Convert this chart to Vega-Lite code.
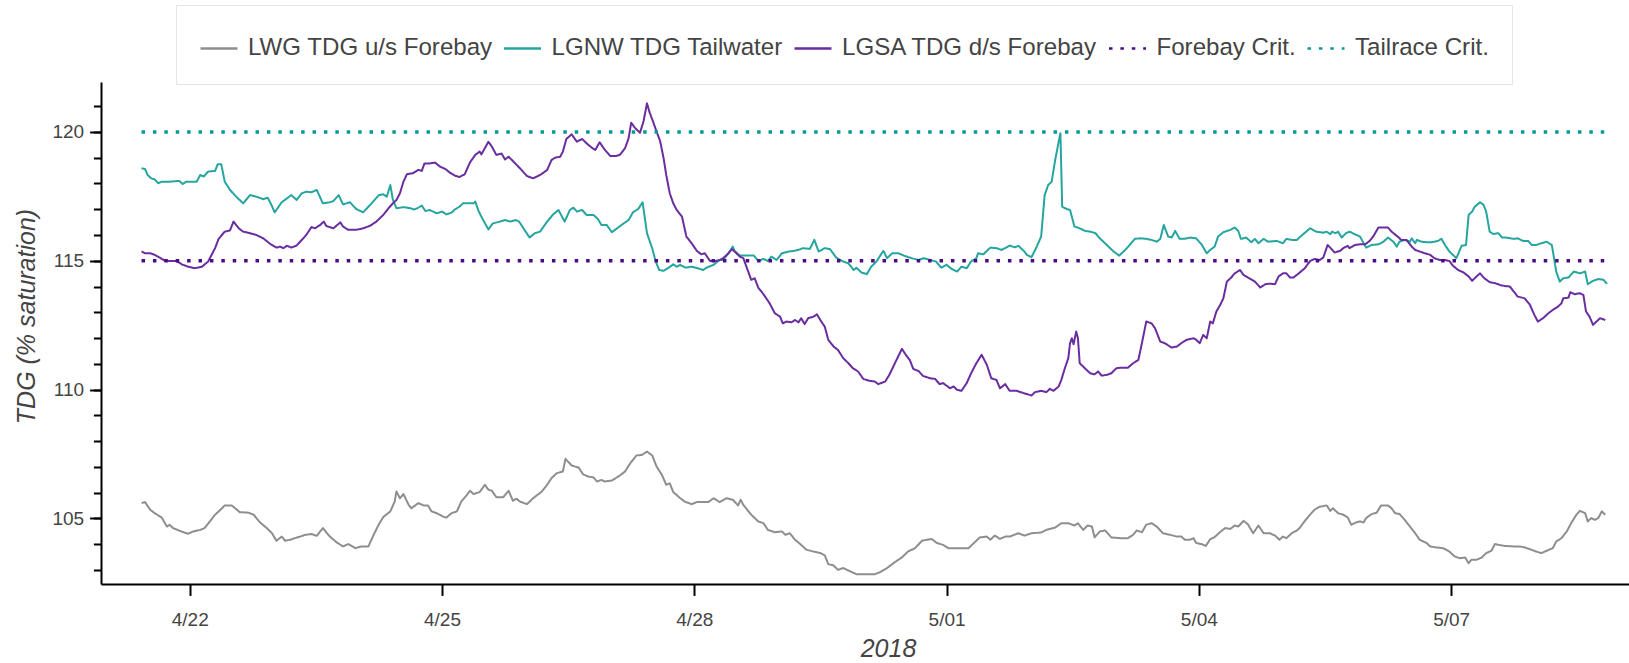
{
"$schema":"https://vega.github.io/schema/vega-lite/v6.json",
"width":1528,"height":502,
"autosize":"none",
"padding":{"left":101,"top":82,"right":0,"bottom":79},
"background":"white",
"config":{"view":{"stroke":null},"axis":{"labelFont":"Liberation Sans","titleFont":"Liberation Sans"},"legend":{"labelFont":"Liberation Sans"}},
"datasets":{
"ts":[
{"t":"2018-04-21T10:15","s":"LWG TDG u/s Forebay","v":105.59},{"t":"2018-04-21T11:15","s":"LWG TDG u/s Forebay","v":105.63},{"t":"2018-04-21T12:45","s":"LWG TDG u/s Forebay","v":105.33},{"t":"2018-04-21T14:00","s":"LWG TDG u/s Forebay","v":105.20},{"t":"2018-04-21T16:00","s":"LWG TDG u/s Forebay","v":105.03},{"t":"2018-04-21T17:30","s":"LWG TDG u/s Forebay","v":104.68},{"t":"2018-04-21T18:15","s":"LWG TDG u/s Forebay","v":104.75},{"t":"2018-04-21T19:15","s":"LWG TDG u/s Forebay","v":104.62},{"t":"2018-04-21T21:15","s":"LWG TDG u/s Forebay","v":104.51},{"t":"2018-04-21T23:30","s":"LWG TDG u/s Forebay","v":104.40},
{"t":"2018-04-22T01:00","s":"LWG TDG u/s Forebay","v":104.49},{"t":"2018-04-22T03:00","s":"LWG TDG u/s Forebay","v":104.55},{"t":"2018-04-22T04:15","s":"LWG TDG u/s Forebay","v":104.62},{"t":"2018-04-22T05:45","s":"LWG TDG u/s Forebay","v":104.88},{"t":"2018-04-22T07:15","s":"LWG TDG u/s Forebay","v":105.14},{"t":"2018-04-22T08:45","s":"LWG TDG u/s Forebay","v":105.33},{"t":"2018-04-22T10:00","s":"LWG TDG u/s Forebay","v":105.50},{"t":"2018-04-22T12:00","s":"LWG TDG u/s Forebay","v":105.50},{"t":"2018-04-22T13:30","s":"LWG TDG u/s Forebay","v":105.33},{"t":"2018-04-22T14:15","s":"LWG TDG u/s Forebay","v":105.24},{"t":"2018-04-22T16:45","s":"LWG TDG u/s Forebay","v":105.22},{"t":"2018-04-22T18:15","s":"LWG TDG u/s Forebay","v":105.14},{"t":"2018-04-22T20:00","s":"LWG TDG u/s Forebay","v":104.85},{"t":"2018-04-22T22:00","s":"LWG TDG u/s Forebay","v":104.62},{"t":"2018-04-22T23:30","s":"LWG TDG u/s Forebay","v":104.42},
{"t":"2018-04-23T00:45","s":"LWG TDG u/s Forebay","v":104.13},{"t":"2018-04-23T02:15","s":"LWG TDG u/s Forebay","v":104.29},{"t":"2018-04-23T03:15","s":"LWG TDG u/s Forebay","v":104.13},{"t":"2018-04-23T04:45","s":"LWG TDG u/s Forebay","v":104.17},{"t":"2018-04-23T06:00","s":"LWG TDG u/s Forebay","v":104.23},{"t":"2018-04-23T07:30","s":"LWG TDG u/s Forebay","v":104.29},{"t":"2018-04-23T09:00","s":"LWG TDG u/s Forebay","v":104.36},{"t":"2018-04-23T10:45","s":"LWG TDG u/s Forebay","v":104.39},{"t":"2018-04-23T12:15","s":"LWG TDG u/s Forebay","v":104.32},{"t":"2018-04-23T14:00","s":"LWG TDG u/s Forebay","v":104.62},{"t":"2018-04-23T16:00","s":"LWG TDG u/s Forebay","v":104.29},{"t":"2018-04-23T18:00","s":"LWG TDG u/s Forebay","v":104.06},{"t":"2018-04-23T19:45","s":"LWG TDG u/s Forebay","v":103.91},{"t":"2018-04-23T21:15","s":"LWG TDG u/s Forebay","v":104.00},{"t":"2018-04-23T23:15","s":"LWG TDG u/s Forebay","v":103.84},
{"t":"2018-04-24T01:00","s":"LWG TDG u/s Forebay","v":103.91},{"t":"2018-04-24T03:00","s":"LWG TDG u/s Forebay","v":103.91},{"t":"2018-04-24T04:30","s":"LWG TDG u/s Forebay","v":104.36},{"t":"2018-04-24T06:00","s":"LWG TDG u/s Forebay","v":104.77},{"t":"2018-04-24T07:15","s":"LWG TDG u/s Forebay","v":105.05},{"t":"2018-04-24T09:15","s":"LWG TDG u/s Forebay","v":105.27},{"t":"2018-04-24T10:30","s":"LWG TDG u/s Forebay","v":105.65},{"t":"2018-04-24T11:00","s":"LWG TDG u/s Forebay","v":106.04},{"t":"2018-04-24T12:00","s":"LWG TDG u/s Forebay","v":105.78},{"t":"2018-04-24T13:00","s":"LWG TDG u/s Forebay","v":105.94},{"t":"2018-04-24T14:30","s":"LWG TDG u/s Forebay","v":105.52},{"t":"2018-04-24T15:15","s":"LWG TDG u/s Forebay","v":105.39},{"t":"2018-04-24T17:15","s":"LWG TDG u/s Forebay","v":105.59},{"t":"2018-04-24T18:45","s":"LWG TDG u/s Forebay","v":105.50},{"t":"2018-04-24T20:00","s":"LWG TDG u/s Forebay","v":105.50},{"t":"2018-04-24T21:00","s":"LWG TDG u/s Forebay","v":105.27},{"t":"2018-04-24T22:30","s":"LWG TDG u/s Forebay","v":105.20},
{"t":"2018-04-25T00:15","s":"LWG TDG u/s Forebay","v":105.07},{"t":"2018-04-25T01:15","s":"LWG TDG u/s Forebay","v":105.03},{"t":"2018-04-25T02:45","s":"LWG TDG u/s Forebay","v":105.20},{"t":"2018-04-25T04:15","s":"LWG TDG u/s Forebay","v":105.27},{"t":"2018-04-25T05:30","s":"LWG TDG u/s Forebay","v":105.65},{"t":"2018-04-25T07:00","s":"LWG TDG u/s Forebay","v":105.89},{"t":"2018-04-25T08:00","s":"LWG TDG u/s Forebay","v":106.07},{"t":"2018-04-25T09:00","s":"LWG TDG u/s Forebay","v":105.94},{"t":"2018-04-25T10:45","s":"LWG TDG u/s Forebay","v":106.02},{"t":"2018-04-25T12:15","s":"LWG TDG u/s Forebay","v":106.30},{"t":"2018-04-25T13:15","s":"LWG TDG u/s Forebay","v":106.11},{"t":"2018-04-25T14:15","s":"LWG TDG u/s Forebay","v":106.07},{"t":"2018-04-25T15:30","s":"LWG TDG u/s Forebay","v":105.82},{"t":"2018-04-25T17:30","s":"LWG TDG u/s Forebay","v":105.82},{"t":"2018-04-25T19:00","s":"LWG TDG u/s Forebay","v":106.07},{"t":"2018-04-25T20:15","s":"LWG TDG u/s Forebay","v":105.68},{"t":"2018-04-25T21:15","s":"LWG TDG u/s Forebay","v":105.76},{"t":"2018-04-25T22:15","s":"LWG TDG u/s Forebay","v":105.65},
{"t":"2018-04-26T00:15","s":"LWG TDG u/s Forebay","v":105.55},{"t":"2018-04-26T02:00","s":"LWG TDG u/s Forebay","v":105.78},{"t":"2018-04-26T04:30","s":"LWG TDG u/s Forebay","v":106.04},{"t":"2018-04-26T06:00","s":"LWG TDG u/s Forebay","v":106.30},{"t":"2018-04-26T07:15","s":"LWG TDG u/s Forebay","v":106.56},{"t":"2018-04-26T08:45","s":"LWG TDG u/s Forebay","v":106.75},{"t":"2018-04-26T10:30","s":"LWG TDG u/s Forebay","v":106.82},{"t":"2018-04-26T11:15","s":"LWG TDG u/s Forebay","v":107.31},{"t":"2018-04-26T13:00","s":"LWG TDG u/s Forebay","v":107.05},{"t":"2018-04-26T15:00","s":"LWG TDG u/s Forebay","v":106.97},{"t":"2018-04-26T16:15","s":"LWG TDG u/s Forebay","v":106.71},{"t":"2018-04-26T17:45","s":"LWG TDG u/s Forebay","v":106.62},{"t":"2018-04-26T19:15","s":"LWG TDG u/s Forebay","v":106.59},{"t":"2018-04-26T20:15","s":"LWG TDG u/s Forebay","v":106.43},{"t":"2018-04-26T21:30","s":"LWG TDG u/s Forebay","v":106.49},{"t":"2018-04-26T22:30","s":"LWG TDG u/s Forebay","v":106.43},
{"t":"2018-04-27T00:30","s":"LWG TDG u/s Forebay","v":106.47},{"t":"2018-04-27T02:45","s":"LWG TDG u/s Forebay","v":106.66},{"t":"2018-04-27T04:15","s":"LWG TDG u/s Forebay","v":106.82},{"t":"2018-04-27T05:45","s":"LWG TDG u/s Forebay","v":107.14},{"t":"2018-04-27T07:30","s":"LWG TDG u/s Forebay","v":107.44},{"t":"2018-04-27T09:00","s":"LWG TDG u/s Forebay","v":107.46},{"t":"2018-04-27T10:30","s":"LWG TDG u/s Forebay","v":107.59},{"t":"2018-04-27T12:00","s":"LWG TDG u/s Forebay","v":107.44},{"t":"2018-04-27T13:15","s":"LWG TDG u/s Forebay","v":107.01},{"t":"2018-04-27T14:45","s":"LWG TDG u/s Forebay","v":106.69},{"t":"2018-04-27T16:00","s":"LWG TDG u/s Forebay","v":106.30},{"t":"2018-04-27T17:00","s":"LWG TDG u/s Forebay","v":106.36},{"t":"2018-04-27T18:00","s":"LWG TDG u/s Forebay","v":106.02},{"t":"2018-04-27T20:00","s":"LWG TDG u/s Forebay","v":105.78},{"t":"2018-04-27T21:15","s":"LWG TDG u/s Forebay","v":105.65},{"t":"2018-04-27T23:15","s":"LWG TDG u/s Forebay","v":105.55},
{"t":"2018-04-28T00:45","s":"LWG TDG u/s Forebay","v":105.63},{"t":"2018-04-28T04:00","s":"LWG TDG u/s Forebay","v":105.63},{"t":"2018-04-28T05:30","s":"LWG TDG u/s Forebay","v":105.78},{"t":"2018-04-28T07:15","s":"LWG TDG u/s Forebay","v":105.63},{"t":"2018-04-28T09:15","s":"LWG TDG u/s Forebay","v":105.78},{"t":"2018-04-28T11:00","s":"LWG TDG u/s Forebay","v":105.72},{"t":"2018-04-28T12:30","s":"LWG TDG u/s Forebay","v":105.50},{"t":"2018-04-28T13:15","s":"LWG TDG u/s Forebay","v":105.72},{"t":"2018-04-28T14:00","s":"LWG TDG u/s Forebay","v":105.52},{"t":"2018-04-28T16:15","s":"LWG TDG u/s Forebay","v":105.14},{"t":"2018-04-28T18:15","s":"LWG TDG u/s Forebay","v":104.88},{"t":"2018-04-28T19:45","s":"LWG TDG u/s Forebay","v":104.81},{"t":"2018-04-28T21:00","s":"LWG TDG u/s Forebay","v":104.55},{"t":"2018-04-28T23:00","s":"LWG TDG u/s Forebay","v":104.46},
{"t":"2018-04-29T01:00","s":"LWG TDG u/s Forebay","v":104.49},{"t":"2018-04-29T02:00","s":"LWG TDG u/s Forebay","v":104.36},{"t":"2018-04-29T03:15","s":"LWG TDG u/s Forebay","v":104.42},{"t":"2018-04-29T04:45","s":"LWG TDG u/s Forebay","v":104.17},{"t":"2018-04-29T06:15","s":"LWG TDG u/s Forebay","v":104.00},{"t":"2018-04-29T08:00","s":"LWG TDG u/s Forebay","v":103.78},{"t":"2018-04-29T10:00","s":"LWG TDG u/s Forebay","v":103.71},{"t":"2018-04-29T12:00","s":"LWG TDG u/s Forebay","v":103.65},{"t":"2018-04-29T13:15","s":"LWG TDG u/s Forebay","v":103.56},{"t":"2018-04-29T14:15","s":"LWG TDG u/s Forebay","v":103.22},{"t":"2018-04-29T15:45","s":"LWG TDG u/s Forebay","v":103.17},{"t":"2018-04-29T17:00","s":"LWG TDG u/s Forebay","v":103.00},{"t":"2018-04-29T18:30","s":"LWG TDG u/s Forebay","v":103.07},{"t":"2018-04-29T20:30","s":"LWG TDG u/s Forebay","v":102.94},{"t":"2018-04-29T22:15","s":"LWG TDG u/s Forebay","v":102.83},
{"t":"2018-04-30T01:15","s":"LWG TDG u/s Forebay","v":102.83},{"t":"2018-04-30T03:30","s":"LWG TDG u/s Forebay","v":102.83},{"t":"2018-04-30T05:00","s":"LWG TDG u/s Forebay","v":102.91},{"t":"2018-04-30T07:00","s":"LWG TDG u/s Forebay","v":103.07},{"t":"2018-04-30T09:15","s":"LWG TDG u/s Forebay","v":103.30},{"t":"2018-04-30T11:15","s":"LWG TDG u/s Forebay","v":103.48},{"t":"2018-04-30T13:00","s":"LWG TDG u/s Forebay","v":103.71},{"t":"2018-04-30T15:00","s":"LWG TDG u/s Forebay","v":103.84},{"t":"2018-04-30T17:00","s":"LWG TDG u/s Forebay","v":104.13},{"t":"2018-04-30T19:45","s":"LWG TDG u/s Forebay","v":104.20},{"t":"2018-04-30T21:15","s":"LWG TDG u/s Forebay","v":104.04},{"t":"2018-04-30T23:00","s":"LWG TDG u/s Forebay","v":103.97},
{"t":"2018-05-01T00:30","s":"LWG TDG u/s Forebay","v":103.84},{"t":"2018-05-01T03:00","s":"LWG TDG u/s Forebay","v":103.84},{"t":"2018-05-01T06:15","s":"LWG TDG u/s Forebay","v":103.84},{"t":"2018-05-01T07:30","s":"LWG TDG u/s Forebay","v":104.00},{"t":"2018-05-01T09:30","s":"LWG TDG u/s Forebay","v":104.26},{"t":"2018-05-01T11:30","s":"LWG TDG u/s Forebay","v":104.29},{"t":"2018-05-01T12:30","s":"LWG TDG u/s Forebay","v":104.17},{"t":"2018-05-01T13:45","s":"LWG TDG u/s Forebay","v":104.33},{"t":"2018-05-01T15:15","s":"LWG TDG u/s Forebay","v":104.20},{"t":"2018-05-01T16:45","s":"LWG TDG u/s Forebay","v":104.29},{"t":"2018-05-01T18:00","s":"LWG TDG u/s Forebay","v":104.29},{"t":"2018-05-01T20:30","s":"LWG TDG u/s Forebay","v":104.42},{"t":"2018-05-01T22:15","s":"LWG TDG u/s Forebay","v":104.33},
{"t":"2018-05-02T00:15","s":"LWG TDG u/s Forebay","v":104.42},{"t":"2018-05-02T03:00","s":"LWG TDG u/s Forebay","v":104.45},{"t":"2018-05-02T04:30","s":"LWG TDG u/s Forebay","v":104.55},{"t":"2018-05-02T07:00","s":"LWG TDG u/s Forebay","v":104.64},{"t":"2018-05-02T08:45","s":"LWG TDG u/s Forebay","v":104.81},{"t":"2018-05-02T10:45","s":"LWG TDG u/s Forebay","v":104.81},{"t":"2018-05-02T12:30","s":"LWG TDG u/s Forebay","v":104.72},{"t":"2018-05-02T13:30","s":"LWG TDG u/s Forebay","v":104.81},{"t":"2018-05-02T15:00","s":"LWG TDG u/s Forebay","v":104.55},{"t":"2018-05-02T16:15","s":"LWG TDG u/s Forebay","v":104.72},{"t":"2018-05-02T17:30","s":"LWG TDG u/s Forebay","v":104.68},{"t":"2018-05-02T18:15","s":"LWG TDG u/s Forebay","v":104.26},{"t":"2018-05-02T19:45","s":"LWG TDG u/s Forebay","v":104.49},{"t":"2018-05-02T21:15","s":"LWG TDG u/s Forebay","v":104.53},{"t":"2018-05-02T23:00","s":"LWG TDG u/s Forebay","v":104.26},
{"t":"2018-05-03T01:30","s":"LWG TDG u/s Forebay","v":104.23},{"t":"2018-05-03T03:45","s":"LWG TDG u/s Forebay","v":104.23},{"t":"2018-05-03T05:15","s":"LWG TDG u/s Forebay","v":104.36},{"t":"2018-05-03T06:15","s":"LWG TDG u/s Forebay","v":104.53},{"t":"2018-05-03T07:45","s":"LWG TDG u/s Forebay","v":104.46},{"t":"2018-05-03T09:00","s":"LWG TDG u/s Forebay","v":104.75},{"t":"2018-05-03T10:30","s":"LWG TDG u/s Forebay","v":104.81},{"t":"2018-05-03T12:00","s":"LWG TDG u/s Forebay","v":104.68},{"t":"2018-05-03T13:45","s":"LWG TDG u/s Forebay","v":104.42},{"t":"2018-05-03T15:45","s":"LWG TDG u/s Forebay","v":104.36},{"t":"2018-05-03T17:45","s":"LWG TDG u/s Forebay","v":104.29},{"t":"2018-05-03T19:00","s":"LWG TDG u/s Forebay","v":104.29},{"t":"2018-05-03T20:00","s":"LWG TDG u/s Forebay","v":104.17},{"t":"2018-05-03T21:30","s":"LWG TDG u/s Forebay","v":104.17},{"t":"2018-05-03T22:30","s":"LWG TDG u/s Forebay","v":104.23},{"t":"2018-05-03T23:15","s":"LWG TDG u/s Forebay","v":104.04},
{"t":"2018-05-04T00:45","s":"LWG TDG u/s Forebay","v":104.00},{"t":"2018-05-04T02:00","s":"LWG TDG u/s Forebay","v":103.93},{"t":"2018-05-04T03:15","s":"LWG TDG u/s Forebay","v":104.19},{"t":"2018-05-04T04:30","s":"LWG TDG u/s Forebay","v":104.27},{"t":"2018-05-04T06:00","s":"LWG TDG u/s Forebay","v":104.46},{"t":"2018-05-04T07:30","s":"LWG TDG u/s Forebay","v":104.62},{"t":"2018-05-04T09:00","s":"LWG TDG u/s Forebay","v":104.59},{"t":"2018-05-04T10:15","s":"LWG TDG u/s Forebay","v":104.72},{"t":"2018-05-04T11:15","s":"LWG TDG u/s Forebay","v":104.68},{"t":"2018-05-04T12:45","s":"LWG TDG u/s Forebay","v":104.90},{"t":"2018-05-04T14:00","s":"LWG TDG u/s Forebay","v":104.77},{"t":"2018-05-04T15:30","s":"LWG TDG u/s Forebay","v":104.42},{"t":"2018-05-04T17:00","s":"LWG TDG u/s Forebay","v":104.72},{"t":"2018-05-04T18:30","s":"LWG TDG u/s Forebay","v":104.42},{"t":"2018-05-04T20:15","s":"LWG TDG u/s Forebay","v":104.42},{"t":"2018-05-04T21:45","s":"LWG TDG u/s Forebay","v":104.33},{"t":"2018-05-04T23:00","s":"LWG TDG u/s Forebay","v":104.17},
{"t":"2018-05-05T00:00","s":"LWG TDG u/s Forebay","v":104.29},{"t":"2018-05-05T01:00","s":"LWG TDG u/s Forebay","v":104.23},{"t":"2018-05-05T02:30","s":"LWG TDG u/s Forebay","v":104.42},{"t":"2018-05-05T04:00","s":"LWG TDG u/s Forebay","v":104.53},{"t":"2018-05-05T04:45","s":"LWG TDG u/s Forebay","v":104.62},{"t":"2018-05-05T06:15","s":"LWG TDG u/s Forebay","v":104.90},{"t":"2018-05-05T07:45","s":"LWG TDG u/s Forebay","v":105.14},{"t":"2018-05-05T09:00","s":"LWG TDG u/s Forebay","v":105.33},{"t":"2018-05-05T10:30","s":"LWG TDG u/s Forebay","v":105.45},{"t":"2018-05-05T12:30","s":"LWG TDG u/s Forebay","v":105.50},{"t":"2018-05-05T13:30","s":"LWG TDG u/s Forebay","v":105.29},{"t":"2018-05-05T14:15","s":"LWG TDG u/s Forebay","v":105.39},{"t":"2018-05-05T15:45","s":"LWG TDG u/s Forebay","v":105.20},{"t":"2018-05-05T17:15","s":"LWG TDG u/s Forebay","v":105.14},{"t":"2018-05-05T18:30","s":"LWG TDG u/s Forebay","v":105.03},{"t":"2018-05-05T19:30","s":"LWG TDG u/s Forebay","v":104.75},{"t":"2018-05-05T21:00","s":"LWG TDG u/s Forebay","v":104.85},{"t":"2018-05-05T22:00","s":"LWG TDG u/s Forebay","v":104.88},{"t":"2018-05-05T23:00","s":"LWG TDG u/s Forebay","v":104.84},{"t":"2018-05-05T23:45","s":"LWG TDG u/s Forebay","v":105.01},
{"t":"2018-05-06T01:15","s":"LWG TDG u/s Forebay","v":105.16},{"t":"2018-05-06T02:45","s":"LWG TDG u/s Forebay","v":105.22},{"t":"2018-05-06T04:00","s":"LWG TDG u/s Forebay","v":105.50},{"t":"2018-05-06T06:00","s":"LWG TDG u/s Forebay","v":105.50},{"t":"2018-05-06T07:00","s":"LWG TDG u/s Forebay","v":105.39},{"t":"2018-05-06T08:00","s":"LWG TDG u/s Forebay","v":105.20},{"t":"2018-05-06T09:15","s":"LWG TDG u/s Forebay","v":105.17},{"t":"2018-05-06T10:45","s":"LWG TDG u/s Forebay","v":104.94},{"t":"2018-05-06T12:15","s":"LWG TDG u/s Forebay","v":104.68},{"t":"2018-05-06T13:45","s":"LWG TDG u/s Forebay","v":104.42},{"t":"2018-05-06T15:00","s":"LWG TDG u/s Forebay","v":104.17},{"t":"2018-05-06T17:00","s":"LWG TDG u/s Forebay","v":104.04},{"t":"2018-05-06T18:00","s":"LWG TDG u/s Forebay","v":103.91},{"t":"2018-05-06T19:45","s":"LWG TDG u/s Forebay","v":103.87},{"t":"2018-05-06T21:45","s":"LWG TDG u/s Forebay","v":103.84},{"t":"2018-05-06T23:30","s":"LWG TDG u/s Forebay","v":103.71},
{"t":"2018-05-07T01:00","s":"LWG TDG u/s Forebay","v":103.52},{"t":"2018-05-07T02:30","s":"LWG TDG u/s Forebay","v":103.45},{"t":"2018-05-07T04:00","s":"LWG TDG u/s Forebay","v":103.48},{"t":"2018-05-07T05:00","s":"LWG TDG u/s Forebay","v":103.26},{"t":"2018-05-07T05:45","s":"LWG TDG u/s Forebay","v":103.39},{"t":"2018-05-07T07:15","s":"LWG TDG u/s Forebay","v":103.39},{"t":"2018-05-07T08:45","s":"LWG TDG u/s Forebay","v":103.48},{"t":"2018-05-07T10:00","s":"LWG TDG u/s Forebay","v":103.65},{"t":"2018-05-07T11:30","s":"LWG TDG u/s Forebay","v":103.74},{"t":"2018-05-07T12:30","s":"LWG TDG u/s Forebay","v":104.00},{"t":"2018-05-07T13:30","s":"LWG TDG u/s Forebay","v":103.97},{"t":"2018-05-07T15:15","s":"LWG TDG u/s Forebay","v":103.93},{"t":"2018-05-07T17:45","s":"LWG TDG u/s Forebay","v":103.91},{"t":"2018-05-07T19:30","s":"LWG TDG u/s Forebay","v":103.91},{"t":"2018-05-07T21:00","s":"LWG TDG u/s Forebay","v":103.87},{"t":"2018-05-07T22:30","s":"LWG TDG u/s Forebay","v":103.80},
{"t":"2018-05-08T00:15","s":"LWG TDG u/s Forebay","v":103.71},{"t":"2018-05-08T01:45","s":"LWG TDG u/s Forebay","v":103.65},{"t":"2018-05-08T03:15","s":"LWG TDG u/s Forebay","v":103.74},{"t":"2018-05-08T05:00","s":"LWG TDG u/s Forebay","v":103.84},{"t":"2018-05-08T06:00","s":"LWG TDG u/s Forebay","v":104.10},{"t":"2018-05-08T07:30","s":"LWG TDG u/s Forebay","v":104.23},{"t":"2018-05-08T09:00","s":"LWG TDG u/s Forebay","v":104.49},{"t":"2018-05-08T10:15","s":"LWG TDG u/s Forebay","v":104.81},{"t":"2018-05-08T11:45","s":"LWG TDG u/s Forebay","v":105.14},{"t":"2018-05-08T12:45","s":"LWG TDG u/s Forebay","v":105.29},{"t":"2018-05-08T14:15","s":"LWG TDG u/s Forebay","v":105.20},{"t":"2018-05-08T15:00","s":"LWG TDG u/s Forebay","v":104.88},{"t":"2018-05-08T16:00","s":"LWG TDG u/s Forebay","v":105.01},{"t":"2018-05-08T17:00","s":"LWG TDG u/s Forebay","v":104.94},{"t":"2018-05-08T18:00","s":"LWG TDG u/s Forebay","v":105.01},{"t":"2018-05-08T19:00","s":"LWG TDG u/s Forebay","v":105.27},{"t":"2018-05-08T20:00","s":"LWG TDG u/s Forebay","v":105.14},

{"t":"2018-04-21T10:15","s":"LGNW TDG Tailwater","v":118.59},{"t":"2018-04-21T11:15","s":"LGNW TDG Tailwater","v":118.56},{"t":"2018-04-21T12:00","s":"LGNW TDG Tailwater","v":118.33},{"t":"2018-04-21T13:00","s":"LGNW TDG Tailwater","v":118.20},{"t":"2018-04-21T14:00","s":"LGNW TDG Tailwater","v":118.16},{"t":"2018-04-21T15:00","s":"LGNW TDG Tailwater","v":118.01},{"t":"2018-04-21T16:00","s":"LGNW TDG Tailwater","v":118.07},{"t":"2018-04-21T18:15","s":"LGNW TDG Tailwater","v":118.07},{"t":"2018-04-21T21:00","s":"LGNW TDG Tailwater","v":118.10},{"t":"2018-04-21T22:00","s":"LGNW TDG Tailwater","v":117.98},{"t":"2018-04-21T23:00","s":"LGNW TDG Tailwater","v":118.07},
{"t":"2018-04-22T02:00","s":"LGNW TDG Tailwater","v":118.07},{"t":"2018-04-22T03:00","s":"LGNW TDG Tailwater","v":118.33},{"t":"2018-04-22T04:00","s":"LGNW TDG Tailwater","v":118.27},{"t":"2018-04-22T05:15","s":"LGNW TDG Tailwater","v":118.46},{"t":"2018-04-22T07:15","s":"LGNW TDG Tailwater","v":118.49},{"t":"2018-04-22T08:00","s":"LGNW TDG Tailwater","v":118.75},{"t":"2018-04-22T09:00","s":"LGNW TDG Tailwater","v":118.75},{"t":"2018-04-22T10:00","s":"LGNW TDG Tailwater","v":118.07},{"t":"2018-04-22T11:30","s":"LGNW TDG Tailwater","v":117.75},{"t":"2018-04-22T13:15","s":"LGNW TDG Tailwater","v":117.49},{"t":"2018-04-22T15:15","s":"LGNW TDG Tailwater","v":117.23},{"t":"2018-04-22T17:15","s":"LGNW TDG Tailwater","v":117.55},{"t":"2018-04-22T19:00","s":"LGNW TDG Tailwater","v":117.49},{"t":"2018-04-22T21:00","s":"LGNW TDG Tailwater","v":117.39},{"t":"2018-04-22T22:15","s":"LGNW TDG Tailwater","v":117.45},{"t":"2018-04-22T23:15","s":"LGNW TDG Tailwater","v":117.19},
{"t":"2018-04-23T00:15","s":"LGNW TDG Tailwater","v":116.88},{"t":"2018-04-23T02:15","s":"LGNW TDG Tailwater","v":117.27},{"t":"2018-04-23T03:45","s":"LGNW TDG Tailwater","v":117.42},{"t":"2018-04-23T05:00","s":"LGNW TDG Tailwater","v":117.55},{"t":"2018-04-23T06:30","s":"LGNW TDG Tailwater","v":117.36},{"t":"2018-04-23T08:00","s":"LGNW TDG Tailwater","v":117.62},{"t":"2018-04-23T09:15","s":"LGNW TDG Tailwater","v":117.68},{"t":"2018-04-23T10:45","s":"LGNW TDG Tailwater","v":117.66},{"t":"2018-04-23T12:15","s":"LGNW TDG Tailwater","v":117.75},{"t":"2018-04-23T14:00","s":"LGNW TDG Tailwater","v":117.23},{"t":"2018-04-23T16:00","s":"LGNW TDG Tailwater","v":117.27},{"t":"2018-04-23T17:00","s":"LGNW TDG Tailwater","v":117.32},{"t":"2018-04-23T18:30","s":"LGNW TDG Tailwater","v":117.55},{"t":"2018-04-23T19:45","s":"LGNW TDG Tailwater","v":117.19},{"t":"2018-04-23T21:45","s":"LGNW TDG Tailwater","v":117.27},{"t":"2018-04-23T23:30","s":"LGNW TDG Tailwater","v":117.01},
{"t":"2018-04-24T01:30","s":"LGNW TDG Tailwater","v":116.88},{"t":"2018-04-24T03:30","s":"LGNW TDG Tailwater","v":117.17},{"t":"2018-04-24T06:00","s":"LGNW TDG Tailwater","v":117.55},{"t":"2018-04-24T07:15","s":"LGNW TDG Tailwater","v":117.58},{"t":"2018-04-24T08:15","s":"LGNW TDG Tailwater","v":117.49},{"t":"2018-04-24T09:15","s":"LGNW TDG Tailwater","v":117.94},{"t":"2018-04-24T10:00","s":"LGNW TDG Tailwater","v":117.36},{"t":"2018-04-24T11:00","s":"LGNW TDG Tailwater","v":117.04},{"t":"2018-04-24T13:00","s":"LGNW TDG Tailwater","v":117.08},{"t":"2018-04-24T15:00","s":"LGNW TDG Tailwater","v":117.04},{"t":"2018-04-24T16:00","s":"LGNW TDG Tailwater","v":116.99},{"t":"2018-04-24T17:00","s":"LGNW TDG Tailwater","v":117.04},{"t":"2018-04-24T18:15","s":"LGNW TDG Tailwater","v":117.14},{"t":"2018-04-24T19:15","s":"LGNW TDG Tailwater","v":116.93},{"t":"2018-04-24T20:30","s":"LGNW TDG Tailwater","v":116.97},{"t":"2018-04-24T22:30","s":"LGNW TDG Tailwater","v":116.84},
{"t":"2018-04-25T00:00","s":"LGNW TDG Tailwater","v":116.91},{"t":"2018-04-25T01:15","s":"LGNW TDG Tailwater","v":116.80},{"t":"2018-04-25T02:45","s":"LGNW TDG Tailwater","v":116.87},{"t":"2018-04-25T03:45","s":"LGNW TDG Tailwater","v":117.00},{"t":"2018-04-25T05:00","s":"LGNW TDG Tailwater","v":117.10},{"t":"2018-04-25T06:00","s":"LGNW TDG Tailwater","v":117.23},{"t":"2018-04-25T09:00","s":"LGNW TDG Tailwater","v":117.23},{"t":"2018-04-25T09:30","s":"LGNW TDG Tailwater","v":117.30},{"t":"2018-04-25T10:30","s":"LGNW TDG Tailwater","v":116.91},{"t":"2018-04-25T11:45","s":"LGNW TDG Tailwater","v":116.58},{"t":"2018-04-25T13:15","s":"LGNW TDG Tailwater","v":116.22},{"t":"2018-04-25T14:30","s":"LGNW TDG Tailwater","v":116.45},{"t":"2018-04-25T16:30","s":"LGNW TDG Tailwater","v":116.52},{"t":"2018-04-25T18:00","s":"LGNW TDG Tailwater","v":116.58},{"t":"2018-04-25T19:30","s":"LGNW TDG Tailwater","v":116.52},{"t":"2018-04-25T21:00","s":"LGNW TDG Tailwater","v":116.58},{"t":"2018-04-25T22:00","s":"LGNW TDG Tailwater","v":116.52},{"t":"2018-04-25T23:15","s":"LGNW TDG Tailwater","v":116.26},
{"t":"2018-04-26T01:00","s":"LGNW TDG Tailwater","v":115.90},{"t":"2018-04-26T02:30","s":"LGNW TDG Tailwater","v":116.07},{"t":"2018-04-26T04:00","s":"LGNW TDG Tailwater","v":116.13},{"t":"2018-04-26T06:00","s":"LGNW TDG Tailwater","v":116.52},{"t":"2018-04-26T07:45","s":"LGNW TDG Tailwater","v":116.80},{"t":"2018-04-26T09:15","s":"LGNW TDG Tailwater","v":116.97},{"t":"2018-04-26T11:00","s":"LGNW TDG Tailwater","v":116.52},{"t":"2018-04-26T12:30","s":"LGNW TDG Tailwater","v":116.97},{"t":"2018-04-26T13:30","s":"LGNW TDG Tailwater","v":117.06},{"t":"2018-04-26T14:30","s":"LGNW TDG Tailwater","v":116.91},{"t":"2018-04-26T16:00","s":"LGNW TDG Tailwater","v":116.97},{"t":"2018-04-26T17:15","s":"LGNW TDG Tailwater","v":116.78},{"t":"2018-04-26T19:15","s":"LGNW TDG Tailwater","v":116.78},{"t":"2018-04-26T20:30","s":"LGNW TDG Tailwater","v":116.62},{"t":"2018-04-26T21:30","s":"LGNW TDG Tailwater","v":116.39},{"t":"2018-04-26T23:00","s":"LGNW TDG Tailwater","v":116.39},
{"t":"2018-04-27T00:30","s":"LGNW TDG Tailwater","v":116.11},{"t":"2018-04-27T02:00","s":"LGNW TDG Tailwater","v":116.26},{"t":"2018-04-27T03:15","s":"LGNW TDG Tailwater","v":116.39},{"t":"2018-04-27T05:15","s":"LGNW TDG Tailwater","v":116.58},{"t":"2018-04-27T06:30","s":"LGNW TDG Tailwater","v":116.88},{"t":"2018-04-27T08:00","s":"LGNW TDG Tailwater","v":117.01},{"t":"2018-04-27T09:15","s":"LGNW TDG Tailwater","v":117.27},{"t":"2018-04-27T10:30","s":"LGNW TDG Tailwater","v":116.07},{"t":"2018-04-27T12:00","s":"LGNW TDG Tailwater","v":115.48},{"t":"2018-04-27T13:00","s":"LGNW TDG Tailwater","v":114.97},{"t":"2018-04-27T14:00","s":"LGNW TDG Tailwater","v":114.64},{"t":"2018-04-27T15:15","s":"LGNW TDG Tailwater","v":114.61},{"t":"2018-04-27T16:30","s":"LGNW TDG Tailwater","v":114.71},{"t":"2018-04-27T18:00","s":"LGNW TDG Tailwater","v":114.86},{"t":"2018-04-27T19:00","s":"LGNW TDG Tailwater","v":114.77},{"t":"2018-04-27T20:00","s":"LGNW TDG Tailwater","v":114.84},{"t":"2018-04-27T21:30","s":"LGNW TDG Tailwater","v":114.73},{"t":"2018-04-27T23:15","s":"LGNW TDG Tailwater","v":114.77},
{"t":"2018-04-28T01:00","s":"LGNW TDG Tailwater","v":114.71},{"t":"2018-04-28T02:30","s":"LGNW TDG Tailwater","v":114.64},{"t":"2018-04-28T03:30","s":"LGNW TDG Tailwater","v":114.73},{"t":"2018-04-28T05:30","s":"LGNW TDG Tailwater","v":114.84},{"t":"2018-04-28T07:15","s":"LGNW TDG Tailwater","v":115.03},{"t":"2018-04-28T08:15","s":"LGNW TDG Tailwater","v":115.03},{"t":"2018-04-28T09:45","s":"LGNW TDG Tailwater","v":115.29},{"t":"2018-04-28T11:00","s":"LGNW TDG Tailwater","v":115.55},{"t":"2018-04-28T11:30","s":"LGNW TDG Tailwater","v":115.38},{"t":"2018-04-28T13:00","s":"LGNW TDG Tailwater","v":115.20},{"t":"2018-04-28T17:00","s":"LGNW TDG Tailwater","v":115.20},{"t":"2018-04-28T18:15","s":"LGNW TDG Tailwater","v":114.99},{"t":"2018-04-28T19:45","s":"LGNW TDG Tailwater","v":115.07},{"t":"2018-04-28T21:00","s":"LGNW TDG Tailwater","v":114.99},{"t":"2018-04-28T22:00","s":"LGNW TDG Tailwater","v":115.16},{"t":"2018-04-28T23:30","s":"LGNW TDG Tailwater","v":115.03},
{"t":"2018-04-29T01:00","s":"LGNW TDG Tailwater","v":115.29},{"t":"2018-04-29T03:00","s":"LGNW TDG Tailwater","v":115.36},{"t":"2018-04-29T04:15","s":"LGNW TDG Tailwater","v":115.38},{"t":"2018-04-29T05:45","s":"LGNW TDG Tailwater","v":115.42},{"t":"2018-04-29T07:00","s":"LGNW TDG Tailwater","v":115.49},{"t":"2018-04-29T09:00","s":"LGNW TDG Tailwater","v":115.46},{"t":"2018-04-29T10:15","s":"LGNW TDG Tailwater","v":115.81},{"t":"2018-04-29T11:30","s":"LGNW TDG Tailwater","v":115.36},{"t":"2018-04-29T13:15","s":"LGNW TDG Tailwater","v":115.49},{"t":"2018-04-29T14:45","s":"LGNW TDG Tailwater","v":115.45},{"t":"2018-04-29T16:30","s":"LGNW TDG Tailwater","v":115.12},{"t":"2018-04-29T18:30","s":"LGNW TDG Tailwater","v":114.97},{"t":"2018-04-29T20:00","s":"LGNW TDG Tailwater","v":114.90},{"t":"2018-04-29T21:30","s":"LGNW TDG Tailwater","v":114.64},{"t":"2018-04-29T22:15","s":"LGNW TDG Tailwater","v":114.73},{"t":"2018-04-29T23:45","s":"LGNW TDG Tailwater","v":114.54},
{"t":"2018-04-30T01:15","s":"LGNW TDG Tailwater","v":114.48},{"t":"2018-04-30T02:30","s":"LGNW TDG Tailwater","v":114.77},{"t":"2018-04-30T04:00","s":"LGNW TDG Tailwater","v":114.97},{"t":"2018-04-30T05:30","s":"LGNW TDG Tailwater","v":115.29},{"t":"2018-04-30T06:00","s":"LGNW TDG Tailwater","v":115.38},{"t":"2018-04-30T07:00","s":"LGNW TDG Tailwater","v":115.10},{"t":"2018-04-30T08:30","s":"LGNW TDG Tailwater","v":115.29},{"t":"2018-04-30T10:15","s":"LGNW TDG Tailwater","v":115.29},{"t":"2018-04-30T12:00","s":"LGNW TDG Tailwater","v":115.19},{"t":"2018-04-30T14:00","s":"LGNW TDG Tailwater","v":115.10},{"t":"2018-04-30T16:00","s":"LGNW TDG Tailwater","v":115.03},{"t":"2018-04-30T17:30","s":"LGNW TDG Tailwater","v":115.10},{"t":"2018-04-30T19:15","s":"LGNW TDG Tailwater","v":115.03},{"t":"2018-04-30T21:00","s":"LGNW TDG Tailwater","v":114.97},{"t":"2018-04-30T22:30","s":"LGNW TDG Tailwater","v":114.73},
{"t":"2018-05-01T00:00","s":"LGNW TDG Tailwater","v":114.84},{"t":"2018-05-01T01:30","s":"LGNW TDG Tailwater","v":114.68},{"t":"2018-05-01T03:00","s":"LGNW TDG Tailwater","v":114.58},{"t":"2018-05-01T04:15","s":"LGNW TDG Tailwater","v":114.77},{"t":"2018-05-01T05:45","s":"LGNW TDG Tailwater","v":114.71},{"t":"2018-05-01T07:00","s":"LGNW TDG Tailwater","v":114.97},{"t":"2018-05-01T08:30","s":"LGNW TDG Tailwater","v":115.10},{"t":"2018-05-01T09:00","s":"LGNW TDG Tailwater","v":115.29},{"t":"2018-05-01T10:30","s":"LGNW TDG Tailwater","v":115.25},{"t":"2018-05-01T12:30","s":"LGNW TDG Tailwater","v":115.51},{"t":"2018-05-01T14:15","s":"LGNW TDG Tailwater","v":115.49},{"t":"2018-05-01T15:45","s":"LGNW TDG Tailwater","v":115.42},{"t":"2018-05-01T18:00","s":"LGNW TDG Tailwater","v":115.59},{"t":"2018-05-01T19:30","s":"LGNW TDG Tailwater","v":115.52},{"t":"2018-05-01T20:30","s":"LGNW TDG Tailwater","v":115.58},{"t":"2018-05-01T22:00","s":"LGNW TDG Tailwater","v":115.39},{"t":"2018-05-01T23:00","s":"LGNW TDG Tailwater","v":115.22},
{"t":"2018-05-02T00:15","s":"LGNW TDG Tailwater","v":115.14},{"t":"2018-05-02T01:45","s":"LGNW TDG Tailwater","v":115.55},{"t":"2018-05-02T03:00","s":"LGNW TDG Tailwater","v":115.94},{"t":"2018-05-02T04:00","s":"LGNW TDG Tailwater","v":117.55},{"t":"2018-05-02T05:00","s":"LGNW TDG Tailwater","v":117.94},{"t":"2018-05-02T06:00","s":"LGNW TDG Tailwater","v":118.07},{"t":"2018-05-02T07:00","s":"LGNW TDG Tailwater","v":118.91},{"t":"2018-05-02T08:00","s":"LGNW TDG Tailwater","v":119.62},{"t":"2018-05-02T08:30","s":"LGNW TDG Tailwater","v":119.95},{"t":"2018-05-02T09:00","s":"LGNW TDG Tailwater","v":117.10},{"t":"2018-05-02T10:15","s":"LGNW TDG Tailwater","v":117.01},{"t":"2018-05-02T11:15","s":"LGNW TDG Tailwater","v":116.97},{"t":"2018-05-02T12:30","s":"LGNW TDG Tailwater","v":116.33},{"t":"2018-05-02T14:00","s":"LGNW TDG Tailwater","v":116.26},{"t":"2018-05-02T15:30","s":"LGNW TDG Tailwater","v":116.16},{"t":"2018-05-02T17:00","s":"LGNW TDG Tailwater","v":116.13},{"t":"2018-05-02T18:30","s":"LGNW TDG Tailwater","v":116.07},{"t":"2018-05-02T19:45","s":"LGNW TDG Tailwater","v":115.87},{"t":"2018-05-02T21:45","s":"LGNW TDG Tailwater","v":115.61},{"t":"2018-05-02T23:30","s":"LGNW TDG Tailwater","v":115.38},
{"t":"2018-05-03T01:15","s":"LGNW TDG Tailwater","v":115.20},{"t":"2018-05-03T03:00","s":"LGNW TDG Tailwater","v":115.42},{"t":"2018-05-03T04:15","s":"LGNW TDG Tailwater","v":115.61},{"t":"2018-05-03T05:45","s":"LGNW TDG Tailwater","v":115.85},{"t":"2018-05-03T07:15","s":"LGNW TDG Tailwater","v":115.87},{"t":"2018-05-03T09:00","s":"LGNW TDG Tailwater","v":115.85},{"t":"2018-05-03T10:30","s":"LGNW TDG Tailwater","v":115.81},{"t":"2018-05-03T12:00","s":"LGNW TDG Tailwater","v":115.74},{"t":"2018-05-03T13:00","s":"LGNW TDG Tailwater","v":115.85},{"t":"2018-05-03T14:00","s":"LGNW TDG Tailwater","v":116.39},{"t":"2018-05-03T15:15","s":"LGNW TDG Tailwater","v":115.94},{"t":"2018-05-03T16:15","s":"LGNW TDG Tailwater","v":115.90},{"t":"2018-05-03T17:15","s":"LGNW TDG Tailwater","v":116.16},{"t":"2018-05-03T18:30","s":"LGNW TDG Tailwater","v":115.85},{"t":"2018-05-03T20:00","s":"LGNW TDG Tailwater","v":115.85},{"t":"2018-05-03T21:30","s":"LGNW TDG Tailwater","v":115.90},{"t":"2018-05-03T23:15","s":"LGNW TDG Tailwater","v":115.87},
{"t":"2018-05-04T00:45","s":"LGNW TDG Tailwater","v":115.64},{"t":"2018-05-04T02:15","s":"LGNW TDG Tailwater","v":115.29},{"t":"2018-05-04T03:15","s":"LGNW TDG Tailwater","v":115.42},{"t":"2018-05-04T04:30","s":"LGNW TDG Tailwater","v":115.55},{"t":"2018-05-04T05:30","s":"LGNW TDG Tailwater","v":115.94},{"t":"2018-05-04T07:00","s":"LGNW TDG Tailwater","v":116.11},{"t":"2018-05-04T09:00","s":"LGNW TDG Tailwater","v":116.20},{"t":"2018-05-04T10:15","s":"LGNW TDG Tailwater","v":116.29},{"t":"2018-05-04T11:15","s":"LGNW TDG Tailwater","v":116.16},{"t":"2018-05-04T12:00","s":"LGNW TDG Tailwater","v":115.85},{"t":"2018-05-04T13:30","s":"LGNW TDG Tailwater","v":115.90},{"t":"2018-05-04T15:00","s":"LGNW TDG Tailwater","v":115.72},{"t":"2018-05-04T16:00","s":"LGNW TDG Tailwater","v":115.85},{"t":"2018-05-04T17:00","s":"LGNW TDG Tailwater","v":115.68},{"t":"2018-05-04T18:30","s":"LGNW TDG Tailwater","v":115.85},{"t":"2018-05-04T19:45","s":"LGNW TDG Tailwater","v":115.74},{"t":"2018-05-04T22:15","s":"LGNW TDG Tailwater","v":115.77},
{"t":"2018-05-05T00:00","s":"LGNW TDG Tailwater","v":115.68},{"t":"2018-05-05T01:00","s":"LGNW TDG Tailwater","v":115.85},{"t":"2018-05-05T02:30","s":"LGNW TDG Tailwater","v":115.81},{"t":"2018-05-05T04:00","s":"LGNW TDG Tailwater","v":115.81},{"t":"2018-05-05T05:00","s":"LGNW TDG Tailwater","v":115.94},{"t":"2018-05-05T07:45","s":"LGNW TDG Tailwater","v":116.26},{"t":"2018-05-05T09:30","s":"LGNW TDG Tailwater","v":116.13},{"t":"2018-05-05T11:30","s":"LGNW TDG Tailwater","v":116.09},{"t":"2018-05-05T12:30","s":"LGNW TDG Tailwater","v":116.13},{"t":"2018-05-05T13:30","s":"LGNW TDG Tailwater","v":116.03},{"t":"2018-05-05T14:00","s":"LGNW TDG Tailwater","v":116.13},{"t":"2018-05-05T15:00","s":"LGNW TDG Tailwater","v":116.07},{"t":"2018-05-05T15:45","s":"LGNW TDG Tailwater","v":116.13},{"t":"2018-05-05T16:45","s":"LGNW TDG Tailwater","v":115.90},{"t":"2018-05-05T18:00","s":"LGNW TDG Tailwater","v":116.07},{"t":"2018-05-05T19:00","s":"LGNW TDG Tailwater","v":116.13},{"t":"2018-05-05T20:30","s":"LGNW TDG Tailwater","v":116.03},{"t":"2018-05-05T22:00","s":"LGNW TDG Tailwater","v":115.94},{"t":"2018-05-05T23:45","s":"LGNW TDG Tailwater","v":115.51},
{"t":"2018-05-06T01:15","s":"LGNW TDG Tailwater","v":115.61},{"t":"2018-05-06T03:15","s":"LGNW TDG Tailwater","v":115.64},{"t":"2018-05-06T04:30","s":"LGNW TDG Tailwater","v":115.72},{"t":"2018-05-06T06:00","s":"LGNW TDG Tailwater","v":115.90},{"t":"2018-05-06T07:30","s":"LGNW TDG Tailwater","v":115.74},{"t":"2018-05-06T08:30","s":"LGNW TDG Tailwater","v":115.55},{"t":"2018-05-06T09:15","s":"LGNW TDG Tailwater","v":115.74},{"t":"2018-05-06T10:45","s":"LGNW TDG Tailwater","v":115.81},{"t":"2018-05-06T12:15","s":"LGNW TDG Tailwater","v":115.74},{"t":"2018-05-06T12:45","s":"LGNW TDG Tailwater","v":115.87},{"t":"2018-05-06T13:45","s":"LGNW TDG Tailwater","v":115.68},{"t":"2018-05-06T14:15","s":"LGNW TDG Tailwater","v":115.81},{"t":"2018-05-06T15:30","s":"LGNW TDG Tailwater","v":115.74},{"t":"2018-05-06T17:00","s":"LGNW TDG Tailwater","v":115.72},{"t":"2018-05-06T18:30","s":"LGNW TDG Tailwater","v":115.72},{"t":"2018-05-06T20:15","s":"LGNW TDG Tailwater","v":115.77},{"t":"2018-05-06T21:15","s":"LGNW TDG Tailwater","v":115.85},{"t":"2018-05-06T22:15","s":"LGNW TDG Tailwater","v":115.61},{"t":"2018-05-06T23:30","s":"LGNW TDG Tailwater","v":115.36},
{"t":"2018-05-07T01:30","s":"LGNW TDG Tailwater","v":115.10},{"t":"2018-05-07T03:00","s":"LGNW TDG Tailwater","v":115.58},{"t":"2018-05-07T04:15","s":"LGNW TDG Tailwater","v":115.61},{"t":"2018-05-07T05:00","s":"LGNW TDG Tailwater","v":116.78},{"t":"2018-05-07T06:00","s":"LGNW TDG Tailwater","v":116.91},{"t":"2018-05-07T06:45","s":"LGNW TDG Tailwater","v":117.10},{"t":"2018-05-07T08:15","s":"LGNW TDG Tailwater","v":117.27},{"t":"2018-05-07T09:15","s":"LGNW TDG Tailwater","v":117.17},{"t":"2018-05-07T10:00","s":"LGNW TDG Tailwater","v":116.91},{"t":"2018-05-07T11:00","s":"LGNW TDG Tailwater","v":116.13},{"t":"2018-05-07T12:00","s":"LGNW TDG Tailwater","v":116.04},{"t":"2018-05-07T13:30","s":"LGNW TDG Tailwater","v":116.07},{"t":"2018-05-07T14:30","s":"LGNW TDG Tailwater","v":115.90},{"t":"2018-05-07T15:45","s":"LGNW TDG Tailwater","v":115.90},{"t":"2018-05-07T17:45","s":"LGNW TDG Tailwater","v":115.85},{"t":"2018-05-07T19:00","s":"LGNW TDG Tailwater","v":115.87},{"t":"2018-05-07T20:30","s":"LGNW TDG Tailwater","v":115.77},{"t":"2018-05-07T22:00","s":"LGNW TDG Tailwater","v":115.77},{"t":"2018-05-07T23:00","s":"LGNW TDG Tailwater","v":115.61},
{"t":"2018-05-08T00:15","s":"LGNW TDG Tailwater","v":115.61},{"t":"2018-05-08T01:45","s":"LGNW TDG Tailwater","v":115.68},{"t":"2018-05-08T03:15","s":"LGNW TDG Tailwater","v":115.74},{"t":"2018-05-08T04:45","s":"LGNW TDG Tailwater","v":115.61},{"t":"2018-05-08T06:00","s":"LGNW TDG Tailwater","v":114.58},{"t":"2018-05-08T07:00","s":"LGNW TDG Tailwater","v":114.19},{"t":"2018-05-08T08:00","s":"LGNW TDG Tailwater","v":114.32},{"t":"2018-05-08T09:30","s":"LGNW TDG Tailwater","v":114.35},{"t":"2018-05-08T11:00","s":"LGNW TDG Tailwater","v":114.58},{"t":"2018-05-08T12:45","s":"LGNW TDG Tailwater","v":114.51},{"t":"2018-05-08T14:15","s":"LGNW TDG Tailwater","v":114.58},{"t":"2018-05-08T15:00","s":"LGNW TDG Tailwater","v":114.09},{"t":"2018-05-08T16:30","s":"LGNW TDG Tailwater","v":114.22},{"t":"2018-05-08T18:00","s":"LGNW TDG Tailwater","v":114.29},{"t":"2018-05-08T19:30","s":"LGNW TDG Tailwater","v":114.26},{"t":"2018-05-08T20:30","s":"LGNW TDG Tailwater","v":114.10},

{"t":"2018-04-21T10:15","s":"LGSA TDG d/s Forebay","v":115.36},{"t":"2018-04-21T11:15","s":"LGSA TDG d/s Forebay","v":115.29},{"t":"2018-04-21T12:45","s":"LGSA TDG d/s Forebay","v":115.29},{"t":"2018-04-21T14:00","s":"LGSA TDG d/s Forebay","v":115.23},{"t":"2018-04-21T15:30","s":"LGSA TDG d/s Forebay","v":115.12},{"t":"2018-04-21T17:00","s":"LGSA TDG d/s Forebay","v":114.99},{"t":"2018-04-21T20:15","s":"LGSA TDG d/s Forebay","v":114.99},{"t":"2018-04-21T21:45","s":"LGSA TDG d/s Forebay","v":114.86},{"t":"2018-04-21T23:30","s":"LGSA TDG d/s Forebay","v":114.77},
{"t":"2018-04-22T01:30","s":"LGSA TDG d/s Forebay","v":114.71},{"t":"2018-04-22T03:30","s":"LGSA TDG d/s Forebay","v":114.77},{"t":"2018-04-22T05:15","s":"LGSA TDG d/s Forebay","v":114.97},{"t":"2018-04-22T07:15","s":"LGSA TDG d/s Forebay","v":115.49},{"t":"2018-04-22T08:15","s":"LGSA TDG d/s Forebay","v":115.85},{"t":"2018-04-22T10:00","s":"LGSA TDG d/s Forebay","v":116.13},{"t":"2018-04-22T11:30","s":"LGSA TDG d/s Forebay","v":116.18},{"t":"2018-04-22T12:30","s":"LGSA TDG d/s Forebay","v":116.52},{"t":"2018-04-22T14:00","s":"LGSA TDG d/s Forebay","v":116.26},{"t":"2018-04-22T15:15","s":"LGSA TDG d/s Forebay","v":116.13},{"t":"2018-04-22T17:15","s":"LGSA TDG d/s Forebay","v":116.07},{"t":"2018-04-22T19:00","s":"LGSA TDG d/s Forebay","v":116.00},{"t":"2018-04-22T21:00","s":"LGSA TDG d/s Forebay","v":115.87},{"t":"2018-04-22T23:00","s":"LGSA TDG d/s Forebay","v":115.65},
{"t":"2018-04-23T00:45","s":"LGSA TDG d/s Forebay","v":115.51},{"t":"2018-04-23T01:45","s":"LGSA TDG d/s Forebay","v":115.55},{"t":"2018-04-23T02:45","s":"LGSA TDG d/s Forebay","v":115.49},{"t":"2018-04-23T03:45","s":"LGSA TDG d/s Forebay","v":115.58},{"t":"2018-04-23T05:00","s":"LGSA TDG d/s Forebay","v":115.51},{"t":"2018-04-23T06:30","s":"LGSA TDG d/s Forebay","v":115.59},{"t":"2018-04-23T08:00","s":"LGSA TDG d/s Forebay","v":115.81},{"t":"2018-04-23T09:15","s":"LGSA TDG d/s Forebay","v":116.00},{"t":"2018-04-23T10:45","s":"LGSA TDG d/s Forebay","v":116.31},{"t":"2018-04-23T11:45","s":"LGSA TDG d/s Forebay","v":116.26},{"t":"2018-04-23T13:15","s":"LGSA TDG d/s Forebay","v":116.39},{"t":"2018-04-23T14:15","s":"LGSA TDG d/s Forebay","v":116.52},{"t":"2018-04-23T15:00","s":"LGSA TDG d/s Forebay","v":116.35},{"t":"2018-04-23T17:00","s":"LGSA TDG d/s Forebay","v":116.26},{"t":"2018-04-23T19:00","s":"LGSA TDG d/s Forebay","v":116.49},{"t":"2018-04-23T19:45","s":"LGSA TDG d/s Forebay","v":116.33},{"t":"2018-04-23T21:15","s":"LGSA TDG d/s Forebay","v":116.20},{"t":"2018-04-23T23:30","s":"LGSA TDG d/s Forebay","v":116.20},
{"t":"2018-04-24T01:30","s":"LGSA TDG d/s Forebay","v":116.26},{"t":"2018-04-24T03:30","s":"LGSA TDG d/s Forebay","v":116.36},{"t":"2018-04-24T05:15","s":"LGSA TDG d/s Forebay","v":116.52},{"t":"2018-04-24T07:15","s":"LGSA TDG d/s Forebay","v":116.78},{"t":"2018-04-24T08:45","s":"LGSA TDG d/s Forebay","v":117.04},{"t":"2018-04-24T10:00","s":"LGSA TDG d/s Forebay","v":117.23},{"t":"2018-04-24T11:00","s":"LGSA TDG d/s Forebay","v":117.36},{"t":"2018-04-24T12:00","s":"LGSA TDG d/s Forebay","v":117.62},{"t":"2018-04-24T13:00","s":"LGSA TDG d/s Forebay","v":118.07},{"t":"2018-04-24T14:00","s":"LGSA TDG d/s Forebay","v":118.36},{"t":"2018-04-24T15:45","s":"LGSA TDG d/s Forebay","v":118.40},{"t":"2018-04-24T17:15","s":"LGSA TDG d/s Forebay","v":118.53},{"t":"2018-04-24T18:15","s":"LGSA TDG d/s Forebay","v":118.49},{"t":"2018-04-24T19:00","s":"LGSA TDG d/s Forebay","v":118.78},{"t":"2018-04-24T20:30","s":"LGSA TDG d/s Forebay","v":118.78},{"t":"2018-04-24T22:00","s":"LGSA TDG d/s Forebay","v":118.81},{"t":"2018-04-24T23:30","s":"LGSA TDG d/s Forebay","v":118.65},
{"t":"2018-04-25T01:00","s":"LGSA TDG d/s Forebay","v":118.56},{"t":"2018-04-25T02:15","s":"LGSA TDG d/s Forebay","v":118.42},{"t":"2018-04-25T03:45","s":"LGSA TDG d/s Forebay","v":118.30},{"t":"2018-04-25T05:00","s":"LGSA TDG d/s Forebay","v":118.25},{"t":"2018-04-25T06:30","s":"LGSA TDG d/s Forebay","v":118.36},{"t":"2018-04-25T08:00","s":"LGSA TDG d/s Forebay","v":118.82},{"t":"2018-04-25T09:30","s":"LGSA TDG d/s Forebay","v":119.11},{"t":"2018-04-25T10:45","s":"LGSA TDG d/s Forebay","v":119.24},{"t":"2018-04-25T11:15","s":"LGSA TDG d/s Forebay","v":119.13},{"t":"2018-04-25T13:15","s":"LGSA TDG d/s Forebay","v":119.62},{"t":"2018-04-25T14:15","s":"LGSA TDG d/s Forebay","v":119.43},{"t":"2018-04-25T15:30","s":"LGSA TDG d/s Forebay","v":119.11},{"t":"2018-04-25T17:00","s":"LGSA TDG d/s Forebay","v":119.16},{"t":"2018-04-25T18:00","s":"LGSA TDG d/s Forebay","v":118.93},{"t":"2018-04-25T19:00","s":"LGSA TDG d/s Forebay","v":119.04},{"t":"2018-04-25T20:15","s":"LGSA TDG d/s Forebay","v":118.87},{"t":"2018-04-25T22:15","s":"LGSA TDG d/s Forebay","v":118.59},
{"t":"2018-04-26T00:15","s":"LGSA TDG d/s Forebay","v":118.29},{"t":"2018-04-26T02:00","s":"LGSA TDG d/s Forebay","v":118.20},{"t":"2018-04-26T04:00","s":"LGSA TDG d/s Forebay","v":118.33},{"t":"2018-04-26T06:00","s":"LGSA TDG d/s Forebay","v":118.52},{"t":"2018-04-26T07:15","s":"LGSA TDG d/s Forebay","v":118.91},{"t":"2018-04-26T08:15","s":"LGSA TDG d/s Forebay","v":119.00},{"t":"2018-04-26T09:45","s":"LGSA TDG d/s Forebay","v":119.04},{"t":"2018-04-26T10:30","s":"LGSA TDG d/s Forebay","v":119.24},{"t":"2018-04-26T11:30","s":"LGSA TDG d/s Forebay","v":119.73},{"t":"2018-04-26T13:00","s":"LGSA TDG d/s Forebay","v":119.91},{"t":"2018-04-26T14:30","s":"LGSA TDG d/s Forebay","v":119.62},{"t":"2018-04-26T16:00","s":"LGSA TDG d/s Forebay","v":119.73},{"t":"2018-04-26T17:15","s":"LGSA TDG d/s Forebay","v":119.56},{"t":"2018-04-26T18:45","s":"LGSA TDG d/s Forebay","v":119.39},{"t":"2018-04-26T19:45","s":"LGSA TDG d/s Forebay","v":119.30},{"t":"2018-04-26T21:00","s":"LGSA TDG d/s Forebay","v":119.60},{"t":"2018-04-26T22:30","s":"LGSA TDG d/s Forebay","v":119.30},
{"t":"2018-04-27T00:00","s":"LGSA TDG d/s Forebay","v":119.07},{"t":"2018-04-27T01:45","s":"LGSA TDG d/s Forebay","v":119.07},{"t":"2018-04-27T02:45","s":"LGSA TDG d/s Forebay","v":119.11},{"t":"2018-04-27T04:15","s":"LGSA TDG d/s Forebay","v":119.37},{"t":"2018-04-27T05:15","s":"LGSA TDG d/s Forebay","v":119.75},{"t":"2018-04-27T06:00","s":"LGSA TDG d/s Forebay","v":120.36},{"t":"2018-04-27T07:00","s":"LGSA TDG d/s Forebay","v":120.17},{"t":"2018-04-27T08:30","s":"LGSA TDG d/s Forebay","v":119.97},{"t":"2018-04-27T09:30","s":"LGSA TDG d/s Forebay","v":120.40},{"t":"2018-04-27T10:30","s":"LGSA TDG d/s Forebay","v":121.11},{"t":"2018-04-27T11:15","s":"LGSA TDG d/s Forebay","v":120.76},{"t":"2018-04-27T12:15","s":"LGSA TDG d/s Forebay","v":120.40},{"t":"2018-04-27T13:15","s":"LGSA TDG d/s Forebay","v":120.01},{"t":"2018-04-27T14:15","s":"LGSA TDG d/s Forebay","v":119.65},{"t":"2018-04-27T15:15","s":"LGSA TDG d/s Forebay","v":118.98},{"t":"2018-04-27T16:00","s":"LGSA TDG d/s Forebay","v":118.33},{"t":"2018-04-27T17:00","s":"LGSA TDG d/s Forebay","v":117.62},{"t":"2018-04-27T18:00","s":"LGSA TDG d/s Forebay","v":117.23},{"t":"2018-04-27T19:00","s":"LGSA TDG d/s Forebay","v":116.97},{"t":"2018-04-27T20:30","s":"LGSA TDG d/s Forebay","v":116.71},{"t":"2018-04-27T21:45","s":"LGSA TDG d/s Forebay","v":115.94},{"t":"2018-04-27T23:15","s":"LGSA TDG d/s Forebay","v":115.68},
{"t":"2018-04-28T00:45","s":"LGSA TDG d/s Forebay","v":115.38},{"t":"2018-04-28T02:00","s":"LGSA TDG d/s Forebay","v":115.25},{"t":"2018-04-28T03:00","s":"LGSA TDG d/s Forebay","v":115.29},{"t":"2018-04-28T04:30","s":"LGSA TDG d/s Forebay","v":114.99},{"t":"2018-04-28T06:00","s":"LGSA TDG d/s Forebay","v":114.99},{"t":"2018-04-28T07:15","s":"LGSA TDG d/s Forebay","v":115.03},{"t":"2018-04-28T08:15","s":"LGSA TDG d/s Forebay","v":115.10},{"t":"2018-04-28T09:45","s":"LGSA TDG d/s Forebay","v":115.29},{"t":"2018-04-28T10:45","s":"LGSA TDG d/s Forebay","v":115.45},{"t":"2018-04-28T11:30","s":"LGSA TDG d/s Forebay","v":115.36},{"t":"2018-04-28T13:00","s":"LGSA TDG d/s Forebay","v":115.16},{"t":"2018-04-28T14:00","s":"LGSA TDG d/s Forebay","v":115.10},{"t":"2018-04-28T15:00","s":"LGSA TDG d/s Forebay","v":114.73},{"t":"2018-04-28T16:15","s":"LGSA TDG d/s Forebay","v":114.26},{"t":"2018-04-28T17:15","s":"LGSA TDG d/s Forebay","v":114.32},{"t":"2018-04-28T18:15","s":"LGSA TDG d/s Forebay","v":113.96},{"t":"2018-04-28T19:45","s":"LGSA TDG d/s Forebay","v":113.70},{"t":"2018-04-28T21:30","s":"LGSA TDG d/s Forebay","v":113.35},{"t":"2018-04-28T23:00","s":"LGSA TDG d/s Forebay","v":112.96},
{"t":"2018-04-29T00:30","s":"LGSA TDG d/s Forebay","v":112.83},{"t":"2018-04-29T01:15","s":"LGSA TDG d/s Forebay","v":112.57},{"t":"2018-04-29T02:15","s":"LGSA TDG d/s Forebay","v":112.64},{"t":"2018-04-29T03:45","s":"LGSA TDG d/s Forebay","v":112.61},{"t":"2018-04-29T04:45","s":"LGSA TDG d/s Forebay","v":112.70},{"t":"2018-04-29T05:45","s":"LGSA TDG d/s Forebay","v":112.61},{"t":"2018-04-29T06:30","s":"LGSA TDG d/s Forebay","v":112.77},{"t":"2018-04-29T07:30","s":"LGSA TDG d/s Forebay","v":112.54},{"t":"2018-04-29T08:30","s":"LGSA TDG d/s Forebay","v":112.77},{"t":"2018-04-29T10:00","s":"LGSA TDG d/s Forebay","v":112.83},{"t":"2018-04-29T11:00","s":"LGSA TDG d/s Forebay","v":112.92},{"t":"2018-04-29T12:15","s":"LGSA TDG d/s Forebay","v":112.64},{"t":"2018-04-29T13:15","s":"LGSA TDG d/s Forebay","v":112.44},{"t":"2018-04-29T14:15","s":"LGSA TDG d/s Forebay","v":111.93},{"t":"2018-04-29T15:45","s":"LGSA TDG d/s Forebay","v":111.67},{"t":"2018-04-29T17:00","s":"LGSA TDG d/s Forebay","v":111.54},{"t":"2018-04-29T18:30","s":"LGSA TDG d/s Forebay","v":111.22},{"t":"2018-04-29T20:00","s":"LGSA TDG d/s Forebay","v":111.02},{"t":"2018-04-29T21:15","s":"LGSA TDG d/s Forebay","v":110.83},{"t":"2018-04-29T22:45","s":"LGSA TDG d/s Forebay","v":110.70},
{"t":"2018-04-30T00:15","s":"LGSA TDG d/s Forebay","v":110.41},{"t":"2018-04-30T02:00","s":"LGSA TDG d/s Forebay","v":110.34},{"t":"2018-04-30T03:30","s":"LGSA TDG d/s Forebay","v":110.31},{"t":"2018-04-30T04:30","s":"LGSA TDG d/s Forebay","v":110.21},{"t":"2018-04-30T06:30","s":"LGSA TDG d/s Forebay","v":110.31},{"t":"2018-04-30T07:45","s":"LGSA TDG d/s Forebay","v":110.59},{"t":"2018-04-30T09:30","s":"LGSA TDG d/s Forebay","v":111.09},{"t":"2018-04-30T11:15","s":"LGSA TDG d/s Forebay","v":111.58},{"t":"2018-04-30T12:30","s":"LGSA TDG d/s Forebay","v":111.32},{"t":"2018-04-30T13:30","s":"LGSA TDG d/s Forebay","v":111.15},{"t":"2018-04-30T14:30","s":"LGSA TDG d/s Forebay","v":110.80},{"t":"2018-04-30T16:00","s":"LGSA TDG d/s Forebay","v":110.72},{"t":"2018-04-30T17:15","s":"LGSA TDG d/s Forebay","v":110.53},{"t":"2018-04-30T19:15","s":"LGSA TDG d/s Forebay","v":110.44},{"t":"2018-04-30T20:45","s":"LGSA TDG d/s Forebay","v":110.41},{"t":"2018-04-30T22:00","s":"LGSA TDG d/s Forebay","v":110.21},{"t":"2018-04-30T23:00","s":"LGSA TDG d/s Forebay","v":110.25},
{"t":"2018-05-01T01:00","s":"LGSA TDG d/s Forebay","v":110.05},{"t":"2018-05-01T02:00","s":"LGSA TDG d/s Forebay","v":110.12},{"t":"2018-05-01T03:00","s":"LGSA TDG d/s Forebay","v":109.99},{"t":"2018-05-01T04:15","s":"LGSA TDG d/s Forebay","v":109.95},{"t":"2018-05-01T05:45","s":"LGSA TDG d/s Forebay","v":110.25},{"t":"2018-05-01T07:00","s":"LGSA TDG d/s Forebay","v":110.63},{"t":"2018-05-01T08:30","s":"LGSA TDG d/s Forebay","v":111.02},{"t":"2018-05-01T10:00","s":"LGSA TDG d/s Forebay","v":111.35},{"t":"2018-05-01T11:30","s":"LGSA TDG d/s Forebay","v":110.96},{"t":"2018-05-01T12:45","s":"LGSA TDG d/s Forebay","v":110.44},{"t":"2018-05-01T14:15","s":"LGSA TDG d/s Forebay","v":110.37},{"t":"2018-05-01T15:15","s":"LGSA TDG d/s Forebay","v":110.05},{"t":"2018-05-01T16:45","s":"LGSA TDG d/s Forebay","v":110.21},{"t":"2018-05-01T18:00","s":"LGSA TDG d/s Forebay","v":109.95},{"t":"2018-05-01T20:00","s":"LGSA TDG d/s Forebay","v":109.95},{"t":"2018-05-01T22:00","s":"LGSA TDG d/s Forebay","v":109.86},
{"t":"2018-05-02T00:15","s":"LGSA TDG d/s Forebay","v":109.77},{"t":"2018-05-02T01:15","s":"LGSA TDG d/s Forebay","v":109.90},{"t":"2018-05-02T03:00","s":"LGSA TDG d/s Forebay","v":109.95},{"t":"2018-05-02T04:30","s":"LGSA TDG d/s Forebay","v":109.90},{"t":"2018-05-02T05:30","s":"LGSA TDG d/s Forebay","v":110.03},{"t":"2018-05-02T06:30","s":"LGSA TDG d/s Forebay","v":109.95},{"t":"2018-05-02T08:00","s":"LGSA TDG d/s Forebay","v":110.12},{"t":"2018-05-02T08:45","s":"LGSA TDG d/s Forebay","v":110.37},{"t":"2018-05-02T09:45","s":"LGSA TDG d/s Forebay","v":110.82},{"t":"2018-05-02T10:45","s":"LGSA TDG d/s Forebay","v":111.22},{"t":"2018-05-02T11:15","s":"LGSA TDG d/s Forebay","v":111.80},{"t":"2018-05-02T11:45","s":"LGSA TDG d/s Forebay","v":111.99},{"t":"2018-05-02T12:15","s":"LGSA TDG d/s Forebay","v":111.76},{"t":"2018-05-02T13:00","s":"LGSA TDG d/s Forebay","v":112.25},{"t":"2018-05-02T13:30","s":"LGSA TDG d/s Forebay","v":111.99},{"t":"2018-05-02T14:00","s":"LGSA TDG d/s Forebay","v":111.02},{"t":"2018-05-02T16:00","s":"LGSA TDG d/s Forebay","v":110.76},{"t":"2018-05-02T17:00","s":"LGSA TDG d/s Forebay","v":110.63},{"t":"2018-05-02T18:15","s":"LGSA TDG d/s Forebay","v":110.59},{"t":"2018-05-02T19:15","s":"LGSA TDG d/s Forebay","v":110.70},{"t":"2018-05-02T20:15","s":"LGSA TDG d/s Forebay","v":110.54},{"t":"2018-05-02T21:45","s":"LGSA TDG d/s Forebay","v":110.57},{"t":"2018-05-02T23:00","s":"LGSA TDG d/s Forebay","v":110.63},
{"t":"2018-05-03T00:30","s":"LGSA TDG d/s Forebay","v":110.83},{"t":"2018-05-03T02:00","s":"LGSA TDG d/s Forebay","v":110.85},{"t":"2018-05-03T03:45","s":"LGSA TDG d/s Forebay","v":110.85},{"t":"2018-05-03T05:15","s":"LGSA TDG d/s Forebay","v":111.02},{"t":"2018-05-03T06:45","s":"LGSA TDG d/s Forebay","v":111.15},{"t":"2018-05-03T07:45","s":"LGSA TDG d/s Forebay","v":111.80},{"t":"2018-05-03T09:00","s":"LGSA TDG d/s Forebay","v":112.64},{"t":"2018-05-03T10:30","s":"LGSA TDG d/s Forebay","v":112.57},{"t":"2018-05-03T11:30","s":"LGSA TDG d/s Forebay","v":112.38},{"t":"2018-05-03T13:00","s":"LGSA TDG d/s Forebay","v":111.86},{"t":"2018-05-03T14:15","s":"LGSA TDG d/s Forebay","v":111.80},{"t":"2018-05-03T16:15","s":"LGSA TDG d/s Forebay","v":111.63},{"t":"2018-05-03T17:45","s":"LGSA TDG d/s Forebay","v":111.67},{"t":"2018-05-03T19:00","s":"LGSA TDG d/s Forebay","v":111.80},{"t":"2018-05-03T20:30","s":"LGSA TDG d/s Forebay","v":111.93},{"t":"2018-05-03T22:30","s":"LGSA TDG d/s Forebay","v":111.99},{"t":"2018-05-03T23:15","s":"LGSA TDG d/s Forebay","v":111.93},
{"t":"2018-05-04T00:15","s":"LGSA TDG d/s Forebay","v":111.80},{"t":"2018-05-04T01:15","s":"LGSA TDG d/s Forebay","v":112.12},{"t":"2018-05-04T02:15","s":"LGSA TDG d/s Forebay","v":111.99},{"t":"2018-05-04T03:15","s":"LGSA TDG d/s Forebay","v":112.64},{"t":"2018-05-04T04:00","s":"LGSA TDG d/s Forebay","v":112.57},{"t":"2018-05-04T05:00","s":"LGSA TDG d/s Forebay","v":113.03},{"t":"2018-05-04T06:00","s":"LGSA TDG d/s Forebay","v":113.26},{"t":"2018-05-04T07:00","s":"LGSA TDG d/s Forebay","v":113.54},{"t":"2018-05-04T08:00","s":"LGSA TDG d/s Forebay","v":114.19},{"t":"2018-05-04T09:15","s":"LGSA TDG d/s Forebay","v":114.35},{"t":"2018-05-04T10:15","s":"LGSA TDG d/s Forebay","v":114.51},{"t":"2018-05-04T11:45","s":"LGSA TDG d/s Forebay","v":114.64},{"t":"2018-05-04T12:45","s":"LGSA TDG d/s Forebay","v":114.45},{"t":"2018-05-04T14:00","s":"LGSA TDG d/s Forebay","v":114.35},{"t":"2018-05-04T16:00","s":"LGSA TDG d/s Forebay","v":114.19},{"t":"2018-05-04T17:30","s":"LGSA TDG d/s Forebay","v":113.96},{"t":"2018-05-04T19:00","s":"LGSA TDG d/s Forebay","v":114.09},{"t":"2018-05-04T20:15","s":"LGSA TDG d/s Forebay","v":114.11},{"t":"2018-05-04T21:45","s":"LGSA TDG d/s Forebay","v":114.09},{"t":"2018-05-04T22:45","s":"LGSA TDG d/s Forebay","v":114.39},
{"t":"2018-05-05T00:00","s":"LGSA TDG d/s Forebay","v":114.51},{"t":"2018-05-05T01:00","s":"LGSA TDG d/s Forebay","v":114.51},{"t":"2018-05-05T02:00","s":"LGSA TDG d/s Forebay","v":114.35},{"t":"2018-05-05T03:00","s":"LGSA TDG d/s Forebay","v":114.35},{"t":"2018-05-05T04:15","s":"LGSA TDG d/s Forebay","v":114.48},{"t":"2018-05-05T06:15","s":"LGSA TDG d/s Forebay","v":114.71},{"t":"2018-05-05T07:45","s":"LGSA TDG d/s Forebay","v":114.99},{"t":"2018-05-05T09:00","s":"LGSA TDG d/s Forebay","v":115.07},{"t":"2018-05-05T10:30","s":"LGSA TDG d/s Forebay","v":115.03},{"t":"2018-05-05T11:30","s":"LGSA TDG d/s Forebay","v":115.12},{"t":"2018-05-05T12:45","s":"LGSA TDG d/s Forebay","v":115.61},{"t":"2018-05-05T13:30","s":"LGSA TDG d/s Forebay","v":115.51},{"t":"2018-05-05T14:45","s":"LGSA TDG d/s Forebay","v":115.32},{"t":"2018-05-05T16:15","s":"LGSA TDG d/s Forebay","v":115.38},{"t":"2018-05-05T17:15","s":"LGSA TDG d/s Forebay","v":115.49},{"t":"2018-05-05T18:30","s":"LGSA TDG d/s Forebay","v":115.58},{"t":"2018-05-05T19:00","s":"LGSA TDG d/s Forebay","v":115.49},{"t":"2018-05-05T20:30","s":"LGSA TDG d/s Forebay","v":115.61},{"t":"2018-05-05T22:00","s":"LGSA TDG d/s Forebay","v":115.64},{"t":"2018-05-05T23:30","s":"LGSA TDG d/s Forebay","v":115.64},
{"t":"2018-05-06T00:45","s":"LGSA TDG d/s Forebay","v":115.77},{"t":"2018-05-06T01:45","s":"LGSA TDG d/s Forebay","v":115.94},{"t":"2018-05-06T03:15","s":"LGSA TDG d/s Forebay","v":116.29},{"t":"2018-05-06T04:30","s":"LGSA TDG d/s Forebay","v":116.29},{"t":"2018-05-06T06:00","s":"LGSA TDG d/s Forebay","v":116.29},{"t":"2018-05-06T07:00","s":"LGSA TDG d/s Forebay","v":116.13},{"t":"2018-05-06T09:00","s":"LGSA TDG d/s Forebay","v":115.91},{"t":"2018-05-06T09:45","s":"LGSA TDG d/s Forebay","v":115.81},{"t":"2018-05-06T11:15","s":"LGSA TDG d/s Forebay","v":115.81},{"t":"2018-05-06T12:45","s":"LGSA TDG d/s Forebay","v":115.55},{"t":"2018-05-06T13:45","s":"LGSA TDG d/s Forebay","v":115.42},{"t":"2018-05-06T15:00","s":"LGSA TDG d/s Forebay","v":115.36},{"t":"2018-05-06T16:30","s":"LGSA TDG d/s Forebay","v":115.29},{"t":"2018-05-06T18:00","s":"LGSA TDG d/s Forebay","v":115.23},{"t":"2018-05-06T19:15","s":"LGSA TDG d/s Forebay","v":115.10},{"t":"2018-05-06T20:45","s":"LGSA TDG d/s Forebay","v":115.03},{"t":"2018-05-06T22:15","s":"LGSA TDG d/s Forebay","v":115.03},{"t":"2018-05-06T23:30","s":"LGSA TDG d/s Forebay","v":114.99},
{"t":"2018-05-07T00:30","s":"LGSA TDG d/s Forebay","v":114.81},{"t":"2018-05-07T02:00","s":"LGSA TDG d/s Forebay","v":114.64},{"t":"2018-05-07T03:30","s":"LGSA TDG d/s Forebay","v":114.55},{"t":"2018-05-07T05:00","s":"LGSA TDG d/s Forebay","v":114.39},{"t":"2018-05-07T06:00","s":"LGSA TDG d/s Forebay","v":114.22},{"t":"2018-05-07T07:15","s":"LGSA TDG d/s Forebay","v":114.39},{"t":"2018-05-07T08:15","s":"LGSA TDG d/s Forebay","v":114.51},{"t":"2018-05-07T09:30","s":"LGSA TDG d/s Forebay","v":114.32},{"t":"2018-05-07T11:00","s":"LGSA TDG d/s Forebay","v":114.17},{"t":"2018-05-07T12:30","s":"LGSA TDG d/s Forebay","v":114.13},{"t":"2018-05-07T14:00","s":"LGSA TDG d/s Forebay","v":114.06},{"t":"2018-05-07T15:15","s":"LGSA TDG d/s Forebay","v":114.02},{"t":"2018-05-07T16:45","s":"LGSA TDG d/s Forebay","v":114.00},{"t":"2018-05-07T18:15","s":"LGSA TDG d/s Forebay","v":113.74},{"t":"2018-05-07T19:00","s":"LGSA TDG d/s Forebay","v":113.61},{"t":"2018-05-07T21:00","s":"LGSA TDG d/s Forebay","v":113.54},{"t":"2018-05-07T22:30","s":"LGSA TDG d/s Forebay","v":113.29},{"t":"2018-05-07T23:45","s":"LGSA TDG d/s Forebay","v":112.90},
{"t":"2018-05-08T00:45","s":"LGSA TDG d/s Forebay","v":112.64},{"t":"2018-05-08T02:15","s":"LGSA TDG d/s Forebay","v":112.77},{"t":"2018-05-08T03:45","s":"LGSA TDG d/s Forebay","v":112.96},{"t":"2018-05-08T05:00","s":"LGSA TDG d/s Forebay","v":113.09},{"t":"2018-05-08T06:30","s":"LGSA TDG d/s Forebay","v":113.22},{"t":"2018-05-08T07:30","s":"LGSA TDG d/s Forebay","v":113.35},{"t":"2018-05-08T08:00","s":"LGSA TDG d/s Forebay","v":113.54},{"t":"2018-05-08T09:30","s":"LGSA TDG d/s Forebay","v":113.57},{"t":"2018-05-08T10:00","s":"LGSA TDG d/s Forebay","v":113.78},{"t":"2018-05-08T11:15","s":"LGSA TDG d/s Forebay","v":113.70},{"t":"2018-05-08T12:45","s":"LGSA TDG d/s Forebay","v":113.74},{"t":"2018-05-08T13:45","s":"LGSA TDG d/s Forebay","v":113.67},{"t":"2018-05-08T14:30","s":"LGSA TDG d/s Forebay","v":113.03},{"t":"2018-05-08T15:30","s":"LGSA TDG d/s Forebay","v":112.83},{"t":"2018-05-08T16:30","s":"LGSA TDG d/s Forebay","v":112.51},{"t":"2018-05-08T17:30","s":"LGSA TDG d/s Forebay","v":112.64},{"t":"2018-05-08T18:30","s":"LGSA TDG d/s Forebay","v":112.77},{"t":"2018-05-08T20:00","s":"LGSA TDG d/s Forebay","v":112.70}
],
"crit":[
{"t":"2018-04-21T10:15","s":"Forebay Crit.","v":115},{"t":"2018-05-08T20:15","s":"Forebay Crit.","v":115},
{"t":"2018-04-21T10:15","s":"Tailrace Crit.","v":120},{"t":"2018-05-08T20:15","s":"Tailrace Crit.","v":120}
]
},
"encoding":{
"x":{"field":"t","type":"temporal",
"scale":{"domain":[{"year":2018,"month":4,"date":20,"hours":22,"minutes":41},{"year":2018,"month":5,"date":9,"hours":2,"minutes":46}]},
"axis":{"values":[{"year":2018,"month":4,"date":22},{"year":2018,"month":4,"date":25},{"year":2018,"month":4,"date":28},{"year":2018,"month":5,"date":1},{"year":2018,"month":5,"date":4},{"year":2018,"month":5,"date":7}],
"format":"%-m/%d","title":"2018","titleFontStyle":"italic","titleFontWeight":"normal","titleFontSize":25,"titleColor":"#444444","titleX":787,"titleY":64,"titleBaseline":"middle","titleAlign":"center",
"labelFontSize":19,"labelColor":"#444444","labelPadding":15,"tickSize":11.4,"tickWidth":2,"tickColor":"#000000","domainColor":"#000000","domainWidth":2,"grid":false,"labelFlush":false}},
"color":{"field":"s","type":"nominal",
"scale":{"domain":["LWG TDG u/s Forebay","LGNW TDG Tailwater","LGSA TDG d/s Forebay","Forebay Crit.","Tailrace Crit."],"range":["#8e8e8e","#26a59f","#6a2d9f","#4b0a86","#0a9a96"]},
"legend":{"orient":"none","legendX":75,"legendY":-77,"direction":"horizontal","columns":5,"title":null,"symbolType":"stroke","symbolSize":1369,"symbolStrokeWidth":2.5,"labelFontSize":24.1,"labelColor":"#444444","labelOffset":9,"columnPadding":5.5,"padding":23,"strokeColor":"#e5e5e5","fillColor":"#ffffff","labelLimit":500}},
"strokeDash":{"field":"s","type":"nominal",
"scale":{"domain":["LWG TDG u/s Forebay","LGNW TDG Tailwater","LGSA TDG d/s Forebay","Forebay Crit.","Tailrace Crit."],"range":[[1,0],[1,0],[1,0],[3.5,7.9],[3.5,7.9]]},
"legend":{"orient":"none","legendX":75,"legendY":-77,"direction":"horizontal","columns":5,"title":null,"symbolType":"stroke","symbolSize":1369,"symbolStrokeWidth":2.5,"labelFontSize":24.1,"labelColor":"#444444","labelOffset":9,"columnPadding":5.5,"padding":23,"strokeColor":"#e5e5e5","fillColor":"#ffffff","labelLimit":500}}
},
"layer":[
{"data":{"name":"ts"},
"mark":{"type":"line","strokeWidth":2,"strokeJoin":"round"},
"encoding":{"y":{"field":"v","type":"quantitative","scale":{"domain":[102.45,121.94],"nice":false,"zero":false},
"axis":{"values":[105,110,115,120],"title":"TDG (% saturation)","titleFontStyle":"italic","titleFontWeight":"normal","titleFontSize":25,"titleColor":"#444444","titleX":-75,"titleY":234,"titleBaseline":"middle","titleAlign":"center","titleAngle":270,
"labelFontSize":19,"labelColor":"#444444","labelPadding":6,"tickSize":11.4,"tickWidth":2,"tickColor":"#000000","domainColor":"#000000","domainWidth":2,"grid":false,"format":"d"}}}},
{"data":{"name":"crit"},
"mark":{"type":"line","strokeWidth":3.5,"strokeCap":"butt"},
"encoding":{"y":{"field":"v","type":"quantitative","scale":{"domain":[102.45,121.94],"nice":false,"zero":false},
"axis":{"values":[103,104,105,106,107,108,109,110,111,112,113,114,115,116,117,118,119,120,121],"orient":"left","labels":false,"domain":false,"title":null,"tickSize":7.6,"tickWidth":2,"tickColor":"#000000","grid":false}}}}
],
"resolve":{"axis":{"y":"independent"}}
}
